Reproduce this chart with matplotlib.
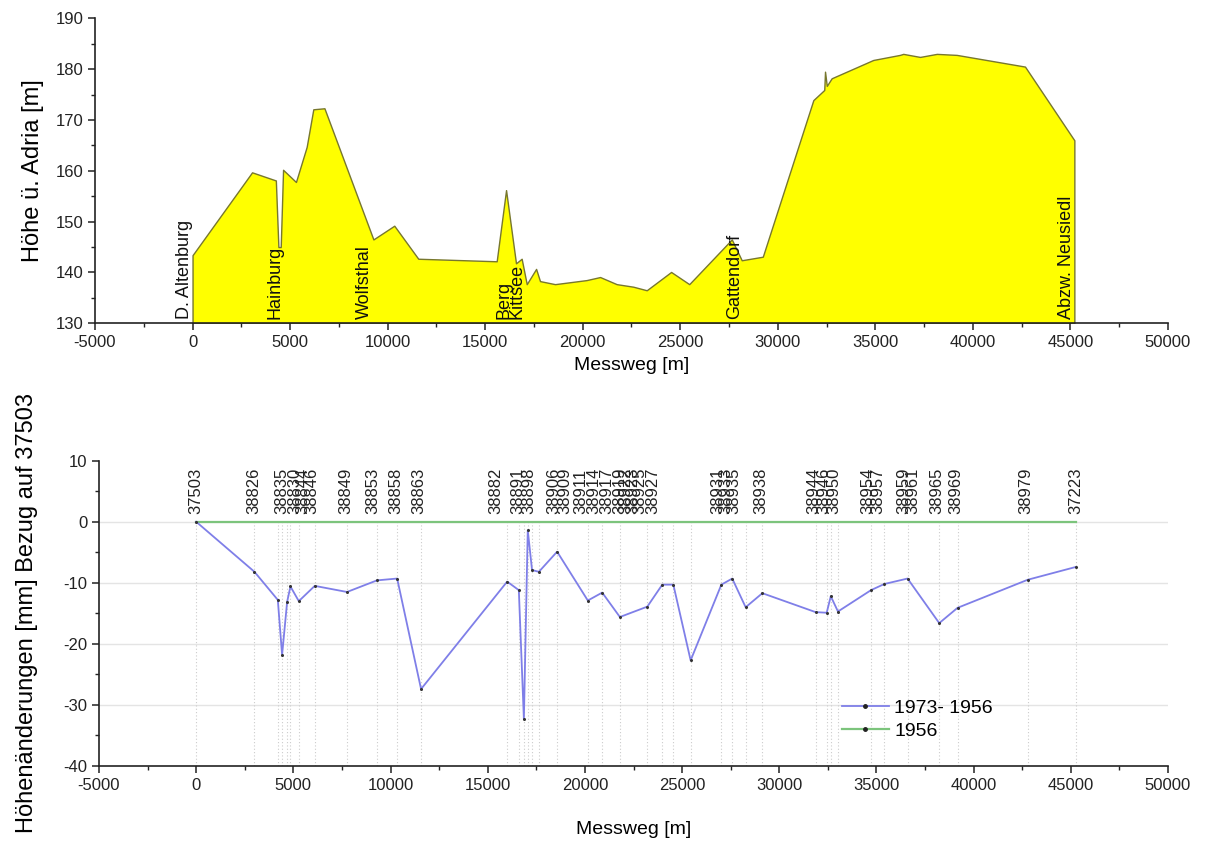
import matplotlib
matplotlib.use('Agg')
import matplotlib.pyplot as plt
from matplotlib.lines import Line2D
from matplotlib.ticker import MultipleLocator

plt.rcParams['font.family'] = ['Liberation Sans', 'DejaVu Sans']
plt.rcParams['axes.unicode_minus'] = False

# --- top: height profile along the levelling line ---
profile_x = [0, 3050, 4270, 4400, 4520, 4640, 5300, 5850, 6190, 6760, 9270, 10340,
             11570, 15590, 16070, 16580, 16870, 17130, 17610, 17810, 18580, 20200,
             20890, 21740, 22590, 23280, 24530, 25460, 27640, 28150, 29230, 31820,
             32380, 32420, 32510, 32760, 34890, 36260, 36430, 37290, 38150, 39170,
             42670, 45200]
profile_h = [143.4, 159.7, 158.1, 145.0, 145.0, 160.2, 157.8, 164.7, 172.1, 172.3,
             146.5, 149.2, 142.7, 142.2, 156.2, 141.8, 142.7, 137.7, 140.7, 138.3,
             137.7, 138.5, 139.1, 137.7, 137.2, 136.5, 140.1, 137.7, 146.5, 142.4,
             143.1, 173.9, 175.9, 179.5, 176.7, 178.2, 181.8, 182.8, 183.0, 182.4,
             183.0, 182.8, 180.5, 166.0]

place_names = ['D. Altenburg', 'Hainburg', 'Wolfsthal', 'Berg', 'Kittsee',
               'Gattendorf', 'Abzw. Neusiedl']
place_x = [0, 4640, 9270, 16380, 17050, 28220, 45230]

# --- bottom: height changes 1973-1956 relative to 37503 ---
change_x = [0, 3000, 4200, 4420, 4680, 4850, 5280, 6100, 7760, 9300, 10340, 11570,
            16000, 16600, 16860, 17060, 17280, 17630, 18570, 20150, 20890, 21800,
            23210, 23980, 24550, 25440, 27020, 27580, 28270, 29130, 31870, 32440,
            32650, 33020, 34720, 35400, 36600, 38230, 39170, 42780, 45260]
change_mm = [0, -8.2, -12.8, -21.8, -13.1, -10.6, -13.0, -10.5, -11.5, -9.6, -9.3,
             -27.4, -9.8, -11.2, -32.3, -1.4, -7.9, -8.2, -4.9, -12.9, -11.6, -15.6,
             -13.9, -10.3, -10.3, -22.7, -10.3, -9.3, -14.0, -11.7, -14.8, -14.9,
             -12.2, -14.7, -11.2, -10.2, -9.3, -16.6, -14.1, -9.5, -7.4]
ref_x = [0, 45260]
ref_mm = [0, 0]

station_names = ['37503', '38826', '38835', '38830', '38844', '38846', '38849',
                 '38853', '38858', '38863', '38882', '38891', '38898', '38906',
                 '38909', '38911', '38914', '38917', '38919', '38922', '38923',
                 '38925', '38927', '38931', '38933', '38935', '38938', '38944',
                 '38946', '38950', '38954', '38957', '38959', '38961', '38965',
                 '38969', '38979', '37223']
station_x = [0, 2990, 4380, 5050, 5510, 5970, 7720, 9110, 10250, 11430, 15400, 16530,
             17100, 18380, 18950, 19770, 20440, 21110, 21780, 22090, 22450, 22810,
             23480, 26830, 27240, 27650, 29040, 31770, 32290, 32800, 34550, 35070,
             36410, 36870, 38110, 39080, 42690, 45260]

grid_levels = [0, -10, -20, -30]

blue = '#7f7fe8'
green = '#7cc47c'


def style_axes(ax):
    for s in ['top', 'right']:
        ax.spines[s].set_visible(False)
    for s in ['left', 'bottom']:
        ax.spines[s].set_linewidth(1.2)
        ax.spines[s].set_color('#222222')
    ax.tick_params(which='major', direction='out', length=5, width=1.1, labelsize=12,
                   colors='#222222')
    ax.tick_params(which='minor', direction='out', length=3, width=1.0, colors='#222222')
    ax.set_xlim(-5000, 50000)
    ax.xaxis.set_major_locator(MultipleLocator(5000))
    ax.xaxis.set_minor_locator(MultipleLocator(2500))


fig = plt.figure(figsize=(12.05, 8.56), dpi=100)

# top chart
ax1 = fig.add_axes([95/1205, 1-323.3/856, (1168-95)/1205, (323.3-18.3)/856])
ax1.fill_between(profile_x, profile_h, 130, facecolor='#ffff00', edgecolor='#77772e',
                 linewidth=1.0)
for name, x in zip(place_names, place_x):
    ax1.text(x, 130.8, name, rotation=90, ha='right', va='bottom', fontsize=13,
             color='#111111')
style_axes(ax1)
ax1.set_ylim(130, 190)
ax1.yaxis.set_major_locator(MultipleLocator(10))
ax1.yaxis.set_minor_locator(MultipleLocator(5))
ax1.set_xlabel('Messweg [m]', fontsize=14, labelpad=5)
ax1.set_ylabel('Höhe ü. Adria [m]', fontsize=17, labelpad=8)

# bottom chart
ax2 = fig.add_axes([99/1205, 1-766/856, (1168-99)/1205, (766-460.7)/856])
for lev in grid_levels:
    ax2.axhline(lev, color='#e4e4e4', linewidth=1.0, zorder=0)
ax2.vlines(change_x, -40, 0, colors='#cccccc', linestyles=(0, (1, 2)), linewidth=0.8,
           zorder=1)
ax2.plot(ref_x, ref_mm, color=green, linewidth=1.6, zorder=3)
ax2.plot(change_x, change_mm, color=blue, linewidth=1.3, marker='o', markersize=1.2,
         markerfacecolor='#333333', markeredgecolor='#333333', zorder=4)
for name, x in zip(station_names, station_x):
    ax2.text(x, 1.3, name, rotation=90, ha='center', va='bottom', fontsize=12,
             color='#222222')
style_axes(ax2)
ax2.set_ylim(-40, 10)
ax2.yaxis.set_major_locator(MultipleLocator(10))
ax2.yaxis.set_minor_locator(MultipleLocator(5))
ax2.set_xlabel('Messweg [m]', fontsize=14, labelpad=20)
ax2.set_ylabel('Höhenänderungen [mm] Bezug auf 37503', fontsize=17, labelpad=18)

handles = [Line2D([], [], color=blue, linewidth=1.3, marker='o', markersize=2.5,
                  markerfacecolor='#222222', markeredgecolor='#222222'),
           Line2D([], [], color=green, linewidth=1.6, marker='o', markersize=2.5,
                  markerfacecolor='#222222', markeredgecolor='#222222')]
ax2.legend(handles, ['1973- 1956', '1956'], loc='center left',
           bbox_to_anchor=(0.695, 0.152), frameon=False, fontsize=14, borderpad=0,
           borderaxespad=0, handlelength=2.4, handletextpad=0.3, labelspacing=0.3,
           numpoints=1)

fig.savefig('out.png', dpi=100)
